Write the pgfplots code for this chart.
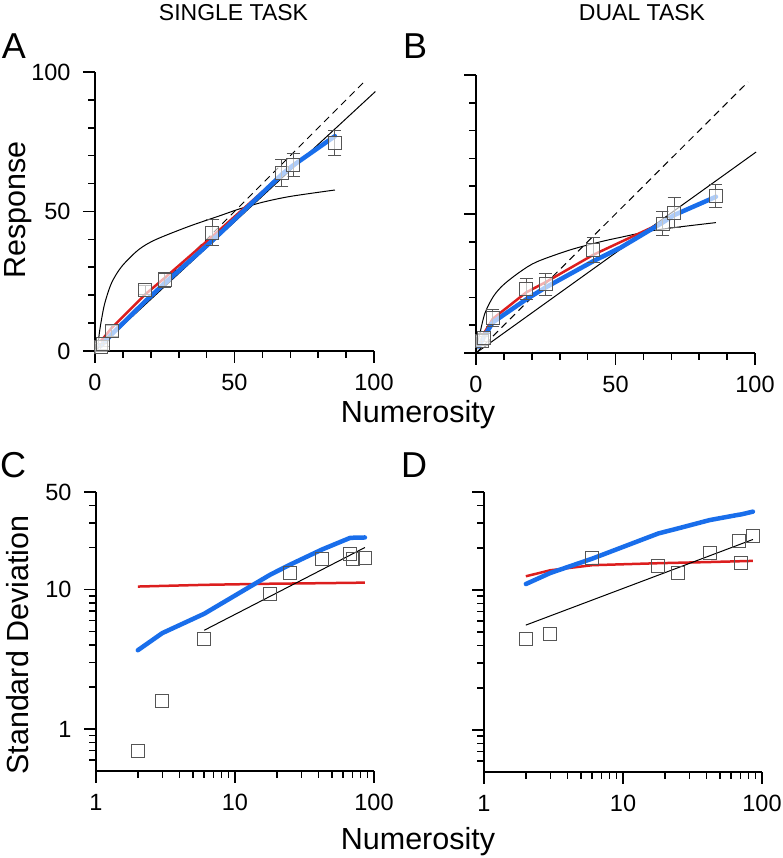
\documentclass[border=0pt]{standalone}
\usepackage{fontspec}
\setmainfont{Liberation Sans}
\usepackage{pgfplots}
\pgfplotsset{compat=1.18}
\definecolor{myblue}{RGB}{25,110,235}
\definecolor{myred}{RGB}{220,30,30}
\definecolor{mygray}{RGB}{85,85,85}
\newcommand{\fs}[1]{\fontsize{#1}{#1}\selectfont}
\pgfplotsset{
  base/.style={scale only axis, anchor=south west, axis lines=left,
    axis line style={-, line width=2pt}, tick align=outside,
    major tick length=12pt, minor tick length=7pt,
    every tick/.append style={line width=1.6pt, black},
    ticklabel style={font=\fs{23.5}},
    xticklabel shift=8pt, yticklabel shift=9pt, clip=false},
  lin/.style={base, xmin=0, xmax=100, ymin=0, ymax=100,
    xtick={0,50,100}, ytick={0,50,100}, xticklabels={0,50,100},
    minor xtick={10,20,30,40,60,70,80,90}, minor ytick={10,20,30,40,60,70,80,90}},
  lg/.style={base, xmin=1, xmax=100, ymin=0.5, ymax=50,
    xtick={1,10,100}, xticklabels={1,10,100}, ytick={1,10,50},
    minor xtick={2,3,4,5,6,7,8,9,20,30,40,50,60,70,80,90},
    minor ytick={0.6,0.7,0.8,0.9,2,3,4,5,6,7,8,9,20,30,40}},
  sq/.style={only marks, mark=square*, mark size=6.5pt,
    mark options={draw=mygray, fill=white, fill opacity=0.65, line width=1pt}},
  sqo/.style={only marks, mark=square, mark size=6.5pt,
    mark options={draw=mygray, line width=1pt}},
  eb/.style={error bars/.cd, y dir=both, y explicit,
    error bar style={line width=1pt, mygray},
    error mark options={rotate=90, mark size=6.5pt, mygray, line width=1pt}},
  bl/.style={myblue, line width=4.5pt, line join=round, line cap=round},
  rd/.style={myred, line width=2.5pt, line join=round},
  bk/.style={black, line width=1pt},
  ds/.style={black, line width=1pt, dash pattern=on 7pt off 5pt},
}
\begin{document}
\begin{tikzpicture}
\useasboundingbox (0pt,0pt) rectangle (783pt,858pt);
% Panel A
\begin{axis}[lin, at={(95pt,507pt)}, width=279pt, height=279pt, yticklabels={0,50,100}]
\addplot[ds] coordinates {(0,0) (97,97)};
\addplot[bk] coordinates {(0,0) (100.5,93)};
\addplot[bk, smooth] coordinates {(1,0.5) (1.1,1.5) (1.5,6) (2.3,11.1) (3.5,17.1) (5.9,24.3) (9.5,30.2) (15.5,36.2) (21.5,39.8) (33.5,44.6) (45.4,48.7) (51.4,50.8) (60,53.3) (70,55.4) (86,57.7)};
\addplot[rd] coordinates {(2,3.5) (3,4.6) (6,8.3) (18,20.3) (25,26.2) (42,41) (67,63.3) (71,66.5) (86,77)};
\addplot[bl] coordinates {(2,1.8) (3,2.7) (6,6.0) (18,17.8) (25,24.3) (42,39.5) (67,63.3) (71,66.5) (86,77)};
\addplot[sq, eb] table[x=x, y=y, y error=e] {
x y e
2 1.6 1
3 2.6 1
6 7.3 2
18 21.9 1.5
25 25.5 2.7
42 42.4 4.7
67 63.7 4.8
71 66.7 4.1
86 74.4 4.5
};
\end{axis}
% Panel B
\begin{axis}[lin, at={(476pt,505pt)}, width=279pt, height=278pt, yticklabels={,,}]
\addplot[ds] coordinates {(0,0) (97.5,97.5)};
\addplot[bk] coordinates {(0,0) (100.4,72.3)};
\addplot[bk, smooth] coordinates {(0.2,1.1) (0.6,3.5) (1.4,7.1) (3.2,14.3) (6.2,20.3) (9.8,24.5) (15.8,29.2) (21.8,32.8) (33.8,37.1) (44.6,40) (51.8,41.6) (65,44.3) (86,46.9)};
\addplot[rd] coordinates {(2,5) (3,7.3) (6,12.3) (18,21.8) (25,25.5) (42,35.3) (52,40) (67,47)};
\addplot[bl] coordinates {(1,2.3) (2,4.2) (3,6) (6,11) (18,19.3) (25,23.6) (42,33) (52,38) (67,47) (71,49.6) (86,56.2)};
\addplot[sq, eb] table[x=x, y=y, y error=e] {
x y e
2 4.3 1.5
3 5.5 1.5
6 12.5 3
18 23.0 3.9
25 24.7 4
42 37.0 4.5
67 46.5 4.3
71 50.5 5.3
86 56.5 4.2
};
\end{axis}
% Panel C
\begin{loglogaxis}[lg, at={(96pt,87pt)}, width=278pt, height=279pt, yticklabels={1,10,50}]
\addplot[rd] coordinates {(2,10.5) (6,10.8) (18,11.0) (42,11.1) (86,11.2)};
\addplot[bl] coordinates {(2,3.67) (3,4.87) (6,6.7) (18,12.8) (25,15.1) (42,19.3) (67,23.4) (71,23.5) (86,23.6)};
\addplot[bk] coordinates {(6,5.1) (86,20.0)};
\addplot[sqo] coordinates {(2,0.70) (3,1.59) (6,4.4) (18,9.3) (25,13.2) (42,16.6) (67,18.0) (71,16.6) (86,16.7)};
\end{loglogaxis}
% Panel D
\begin{loglogaxis}[lg, at={(484pt,86pt)}, width=278pt, height=280pt, yticklabels={,,}]
\addplot[rd] coordinates {(2,12.5) (3,13.8) (6,15.0) (18,15.5) (42,15.8) (86,16.1)};
\addplot[bl] coordinates {(2,11.0) (3,13.2) (6,16.7) (18,25.3) (25,27.5) (42,31.5) (67,34.3) (71,34.6) (86,36.2)};
\addplot[bk] coordinates {(2,5.6) (86,22.9)};
\addplot[sqo] coordinates {(2,4.44) (3,4.87) (6,16.9) (18,14.7) (25,13.3) (42,18.2) (68,22.3) (71,15.6) (86,24.2)};
\end{loglogaxis}
% Labels
\node[font=\fs{23}] at (233.5pt,845pt) {SINGLE TASK};
\node[font=\fs{23}] at (642pt,845pt) {DUAL TASK};
\node[font=\fs{36}] at (14pt,812pt) {A};
\node[font=\fs{36}] at (415pt,812pt) {B};
\node[font=\fs{36}] at (13pt,393pt) {C};
\node[font=\fs{36}] at (414pt,393pt) {D};
\node[font=\fs{30.5}, rotate=90] at (18pt,648pt) {Response};
\node[font=\fs{30.5}, rotate=90] at (18pt,213pt) {Standard Deviation};
\node[font=\fs{30.5}] at (418pt,443pt) {Numerosity};
\node[font=\fs{30.5}] at (418pt,16pt) {Numerosity};
\end{tikzpicture}
\end{document}
